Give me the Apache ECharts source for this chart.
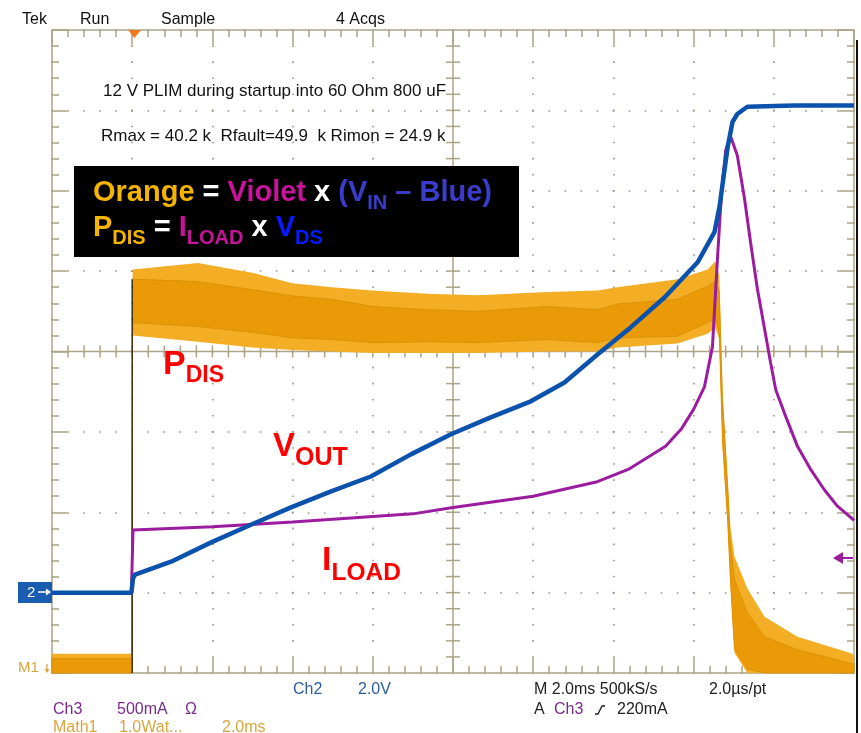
<!DOCTYPE html>
<html>
<head>
<meta charset="utf-8">
<script src="https://cdn.jsdelivr.net/npm/echarts@6/dist/echarts.min.js"></script>
<style>
  html, body { margin: 0; padding: 0; background: #ffffff; }
  #chart { width: 861px; height: 733px; }
</style>
</head>
<body>
<div id="chart"></div>
<script>
// Time base 2 ms/div, trigger at t = 0 ms (one division from the left edge)
const timeRange = [-2, 18];
const timeStep = 2;

// Ch2: V_OUT in volts (2.0 V/div)
const voutTime  = [-2, -0.02, 0.02, 0.07, 0.97, 1.97, 2.96, 3.96, 4.96, 5.95, 6.95, 7.95, 8.94, 9.94, 10.78, 11.61, 12.43, 13.28, 14.10, 14.52, 14.65, 14.75, 14.85, 14.97, 15.09, 15.34, 16.5, 18];
const voutVolts = [0, 0, 0.35, 0.45, 0.77, 1.25, 1.69, 2.12, 2.52, 2.89, 3.44, 3.94, 4.36, 4.76, 5.23, 5.93, 6.60, 7.35, 8.22, 8.97, 9.62, 10.37, 11.09, 11.71, 11.91, 12.09, 12.12, 12.12];

// Ch3: I_LOAD in amps (500 mA/div)
const iloadTime = [-2, -0.02, 0.02, 2, 4, 7, 8, 10, 11.6, 12.4, 13.3, 13.7, 14.0, 14.27, 14.47, 14.6, 14.7, 14.8, 14.92, 15.09, 15.27, 15.42, 15.59, 15.77, 15.92, 16.05, 16.26, 16.59, 16.91, 17.26, 17.58, 17.91, 18];
const iloadAmps = [0, 0, 0.39, 0.41, 0.44, 0.49, 0.53, 0.60, 0.69, 0.77, 0.91, 1.02, 1.14, 1.28, 1.53, 2.10, 2.50, 2.75, 2.84, 2.72, 2.45, 2.18, 1.89, 1.64, 1.43, 1.26, 1.12, 0.91, 0.77, 0.64, 0.54, 0.47, 0.45];

// Math1: P_DIS in watts (1.0 W/div): dense core of the noise band ...
const pdisTime = [-2, -0.01, 0.01, 1.64, 2.99, 3.99, 4.98, 5.98, 7.37, 8.62, 10.36, 11.61, 12.1, 13.6, 14.35, 14.54, 14.64, 14.72, 14.85, 14.92, 15.02, 15.34, 15.77, 16.59, 17.91, 18];
const pdisHigh = [0.18, 0.18, 4.90, 4.87, 4.77, 4.69, 4.65, 4.56, 4.52, 4.50, 4.56, 4.52, 4.59, 4.65, 4.81, 4.87, 4.75, 3.40, 2.30, 1.60, 1.16, 0.75, 0.45, 0.29, 0.12, 0.12];
const pdisLow  = [0, 0, 4.36, 4.31, 4.24, 4.17, 4.15, 4.11, 4.12, 4.11, 4.15, 4.11, 4.17, 4.19, 4.36, 4.40, 4.25, 2.90, 1.90, 1.15, 0.30, 0.05, 0, 0, 0, 0];
// ... and the reach of its spikes
const pdisPeakHigh = [0.24, 0.24, 5.02, 5.10, 4.98, 4.85, 4.80, 4.76, 4.72, 4.70, 4.74, 4.76, 4.80, 4.90, 5.02, 5.12, 4.95, 3.50, 2.40, 1.80, 1.45, 1.05, 0.70, 0.45, 0.25, 0.22];
const pdisPeakLow  = [0, 0, 4.20, 4.12, 4.05, 4.02, 4.00, 3.98, 3.98, 3.98, 4.00, 4.00, 4.05, 4.10, 4.22, 4.30, 4.15, 2.85, 1.85, 1.10, 0.25, 0, 0, 0, 0, 0];

// Screen centre (ms, V) where the graticule cross-hair sits
const screenCenter = [8, 6];

const gridColor = '#aca486';
const dotColor = '#9b957a';
const FONT = "'Liberation Sans', Arial, sans-serif";

const chart = echarts.init(document.getElementById('chart'), null, { renderer: 'canvas' });

function frameAxis(base, pos, splitDash) {
  return Object.assign({
    type: 'value',
    position: pos,
    axisLine: { show: true, onZero: false, lineStyle: { color: gridColor, width: 1.5 } },
    axisTick: { show: true, inside: true, length: 15, lineStyle: { color: gridColor, width: 1.5 } },
    minorTick: { show: true, splitNumber: 5, length: 7, lineStyle: { color: gridColor, width: 1.5 } },
    axisLabel: { show: false },
    splitLine: splitDash
      ? { show: true, lineStyle: { color: dotColor, width: 1.6, type: splitDash, dashOffset: 0.8 } }
      : { show: false },
    minorSplitLine: { show: false }
  }, base);
}

function txt(x, y, text, color, size, extra) {
  return Object.assign({
    type: 'text', x: x, y: y, silent: true, z: 50,
    style: { text: text, fill: color, font: (size || 16) + 'px ' + FONT, verticalAlign: 'middle', align: 'left' }
  }, extra || {});
}

// rich-text fragments: normal size and lowered subscript
const mainRich = (color, size, lh) => ({ fill: color, fontFamily: FONT, fontWeight: 'bold', fontSize: size, lineHeight: lh });
const subRich = (color, size, pad, lh) => ({ fill: color, fontFamily: FONT, fontWeight: 'bold', fontSize: size, padding: [pad, 0, 0, 0], lineHeight: lh });

function bandPolygon(api, hi, lo, style) {
  const upper = pdisTime.map((t, i) => api.coord([t, hi[i]]));
  const lower = pdisTime.map((t, i) => api.coord([t, lo[i]])).reverse();
  return { type: 'polygon', shape: { points: upper.concat(lower) }, style: style };
}

const option = {
  animation: false,
  backgroundColor: '#ffffff',
  grid: { left: 52, top: 30, width: 802, height: 643, containLabel: false },
  xAxis: [
    frameAxis({ min: timeRange[0], max: timeRange[1], interval: timeStep }, 'bottom', [1.6, 14.475]),
    frameAxis({ min: timeRange[0], max: timeRange[1], interval: timeStep }, 'top', null)
  ],
  yAxis: [
    frameAxis({ min: -2, max: 14, interval: 2 }, 'left', [1.6, 14.44]),
    frameAxis({ min: -0.5, max: 3.5, interval: 0.5 }, 'right', null),
    { type: 'value', min: 0, max: 8, interval: 1, show: false, axisLine: { onZero: false } }
  ],
  series: [
    {
      // graticule cross-hair with its minor ticks
      type: 'custom', xAxisIndex: 0, yAxisIndex: 0, z: 1, silent: true, clip: false,
      data: [screenCenter],
      renderItem: function (params, api) {
        const cx = api.value(0), cy = api.value(1);
        const c = api.coord([cx, cy]);
        const cs = params.coordSys;
        const sx = api.coord([cx + timeStep / 5, cy])[0] - c[0];
        const sy = c[1] - api.coord([cx, cy + 0.4])[1];
        const st = { stroke: gridColor, lineWidth: 1.5 };
        const kids = [
          { type: 'line', shape: { x1: c[0], y1: cs.y, x2: c[0], y2: cs.y + cs.height }, style: st },
          { type: 'line', shape: { x1: cs.x, y1: c[1], x2: cs.x + cs.width, y2: c[1] }, style: st }
        ];
        for (let k = -30; k <= 30; k++) {
          const x = c[0] + k * sx;
          if (k !== 0 && x > cs.x + 2 && x < cs.x + cs.width - 2) {
            kids.push({ type: 'line', shape: { x1: x, y1: c[1] - 6, x2: x, y2: c[1] + 6 }, style: st });
          }
          const y = c[1] + k * sy;
          if (k !== 0 && y > cs.y + 2 && y < cs.y + cs.height - 2) {
            kids.push({ type: 'line', shape: { x1: c[0] - 7, y1: y, x2: c[0] + 7, y2: y }, style: st });
          }
        }
        return { type: 'group', children: kids };
      }
    },
    {
      // Math1 = P_DIS, drawn as its noise band
      name: 'P_DIS', type: 'custom', xAxisIndex: 0, yAxisIndex: 2, z: 3, silent: true,
      data: [0],
      renderItem: function (params, api) {
        const trig = pdisTime.indexOf(0.01);
        const e0 = api.coord([0, 0]);
        const e1 = api.coord([0, pdisHigh[trig]]);
        return {
          type: 'group', children: [
            bandPolygon(api, pdisPeakHigh, pdisPeakLow, { fill: '#f3ae26' }),
            bandPolygon(api, pdisHigh, pdisLow, { fill: '#e99a06', stroke: '#dc9206', lineWidth: 1 }),
            { type: 'line', shape: { x1: e0[0], y1: e0[1], x2: e1[0], y2: e1[1] }, style: { stroke: '#3e3012', lineWidth: 1.5 } }
          ]
        };
      }
    },
    {
      name: 'I_LOAD', type: 'line', xAxisIndex: 0, yAxisIndex: 1, z: 4,
      data: iloadTime.map((t, i) => [t, iloadAmps[i]]),
      showSymbol: false, silent: true,
      lineStyle: { color: '#9b1c9e', width: 3 }
    },
    {
      name: 'V_OUT', type: 'line', xAxisIndex: 0, yAxisIndex: 0, z: 5,
      data: voutTime.map((t, i) => [t, voutVolts[i]]),
      showSymbol: false, silent: true,
      lineStyle: { color: '#0b52ad', width: 4.5 }
    }
  ],
  graphic: [
    // status line
    txt(22, 19.5, 'Tek', '#111'),
    txt(80, 19.5, 'Run', '#111'),
    txt(161, 19.5, 'Sample', '#111'),
    txt(336, 19.5, '4 Acqs', '#111'),
    // trigger position marker
    { type: 'polygon', silent: true, z: 50, shape: { points: [[128, 30], [141, 30], [134.5, 38]] }, style: { fill: '#f07a22' } },
    // annotations on the screen
    txt(103, 91.5, '12 V PLIM during startup into 60 Ohm 800 uF', '#111', 17),
    txt(101, 136, 'Rmax = 40.2 k  Rfault=49.9  k Rimon = 24.9 k', '#111', 17),
    { type: 'rect', silent: true, z: 40, shape: { x: 74, y: 166, width: 445, height: 91 }, style: { fill: '#000000' } },
    {
      type: 'text', x: 93, y: 193, silent: true, z: 50,
      style: {
        text: '{o|Orange}{w| = }{v|Violet}{w| x }{b|(V}{bs|IN}{b| – Blue)}',
        verticalAlign: 'middle', align: 'left',
        rich: {
          o: mainRich('#f4b400', 29, 40), w: mainRich('#ffffff', 29, 40), v: mainRich('#c8139b', 29, 40),
          b: mainRich('#3c3ccc', 29, 40), bs: subRich('#3c3ccc', 20, 20, 40)
        }
      }
    },
    {
      type: 'text', x: 93, y: 228, silent: true, z: 50,
      style: {
        text: '{o|P}{os|DIS}{w| = }{v|I}{vs|LOAD}{w| x }{d|V}{ds|DS}',
        verticalAlign: 'middle', align: 'left',
        rich: {
          o: mainRich('#f4b400', 29, 40), os: subRich('#f4b400', 20, 20, 40),
          w: mainRich('#ffffff', 29, 40),
          v: mainRich('#c8139b', 29, 40), vs: subRich('#c8139b', 20, 20, 40),
          d: mainRich('#0a1aff', 29, 40), ds: subRich('#0a1aff', 20, 20, 40)
        }
      }
    },
    // trace names
    {
      type: 'text', x: 163, y: 365, silent: true, z: 50,
      style: { text: '{m|P}{s|DIS}', verticalAlign: 'middle', align: 'left',
        rich: { m: mainRich('#ff0000', 34, 46), s: subRich('#ff0000', 23, 22, 46) } }
    },
    {
      type: 'text', x: 273, y: 446.5, silent: true, z: 50,
      style: { text: '{m|V}{s|OUT}', verticalAlign: 'middle', align: 'left',
        rich: { m: mainRich('#ff0000', 33, 46), s: subRich('#ff0000', 25, 24, 46) } }
    },
    {
      type: 'text', x: 322, y: 561, silent: true, z: 50,
      style: { text: '{m|I}{s|LOAD}', verticalAlign: 'middle', align: 'left',
        rich: { m: mainRich('#ff0000', 34, 46), s: subRich('#ff0000', 24.5, 25, 46) } }
    },
    // channel reference markers
    { type: 'rect', silent: true, z: 50, shape: { x: 18, y: 582, width: 34, height: 21 }, style: { fill: '#1a5cb0' } },
    txt(27, 593, '2', '#ffffff', 15),
    { type: 'line', silent: true, z: 51, shape: { x1: 38, y1: 592, x2: 48, y2: 592 }, style: { stroke: '#ffffff', lineWidth: 1.5 } },
    { type: 'polygon', silent: true, z: 51, shape: { points: [[51, 592], [46, 588.5], [46, 595.5]] }, style: { fill: '#ffffff' } },
    txt(18, 667.5, 'M1', '#d9a43a', 15),
    { type: 'line', silent: true, z: 51, shape: { x1: 47, y1: 664, x2: 47, y2: 670 }, style: { stroke: '#d9a43a', lineWidth: 1.2 } },
    { type: 'polygon', silent: true, z: 51, shape: { points: [[47, 673], [44.5, 669], [49.5, 669]] }, style: { fill: '#d9a43a' } },
    { type: 'line', silent: true, z: 50, shape: { x1: 840, y1: 558, x2: 853, y2: 558 }, style: { stroke: '#9b1c9e', lineWidth: 2 } },
    { type: 'polygon', silent: true, z: 50, shape: { points: [[833, 558], [843, 552], [843, 564]] }, style: { fill: '#9b1c9e' } },
    // display frame edge
    { type: 'line', silent: true, z: 50, shape: { x1: 857, y1: 40, x2: 857, y2: 733 }, style: { stroke: '#111111', lineWidth: 2 } },
    // readouts
    txt(293, 689.5, 'Ch2', '#2c5d9c'),
    txt(358, 689.5, '2.0V', '#2c5d9c'),
    txt(534, 689.5, 'M 2.0ms 500kS/s', '#222'),
    txt(709, 689.5, '2.0µs/pt', '#222'),
    txt(53, 709.5, 'Ch3', '#7a2a8a'),
    txt(117, 709.5, '500mA', '#7a2a8a'),
    txt(185, 709.5, 'Ω', '#7a2a8a'),
    txt(534, 709.5, 'A', '#222'),
    txt(554, 709.5, 'Ch3', '#7a2a8a'),
    { type: 'polyline', silent: true, z: 50, shape: { points: [[595, 714], [598, 714], [602, 706], [605, 706]] }, style: { stroke: '#222', lineWidth: 1.3, fill: null } },
    txt(617, 709.5, '220mA', '#222'),
    txt(53, 727.5, 'Math1', '#d8a640'),
    txt(119, 727.5, '1.0Wat...', '#d8a640'),
    txt(222, 727.5, '2.0ms', '#d8a640')
  ]
};

chart.setOption(option);
</script>
</body>
</html>
